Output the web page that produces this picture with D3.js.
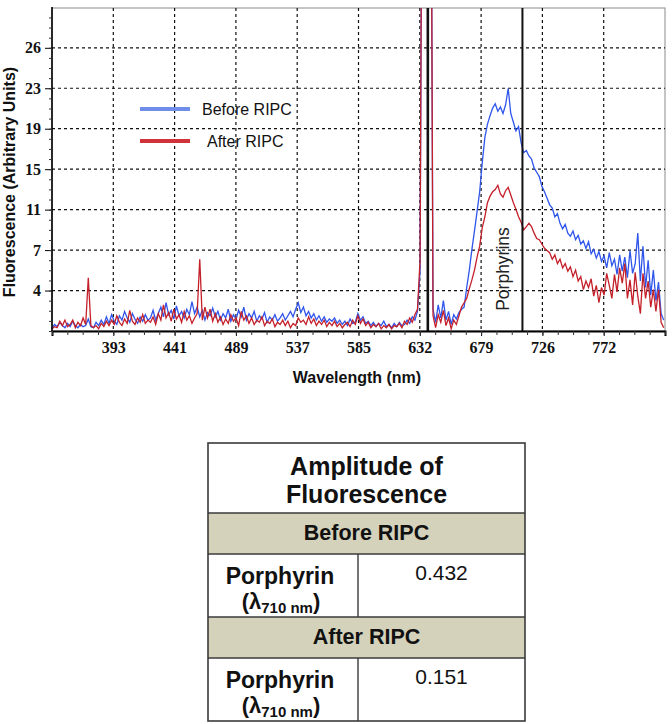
<!DOCTYPE html>
<html><head><meta charset="utf-8">
<script src="https://cdn.jsdelivr.net/npm/d3@7"></script>
<style>body{margin:0;background:#fff} svg{display:block}</style>
</head><body>
<svg id="c" width="672" height="724"></svg>
<script>
// ---- data ----
const wlStart = 346, wlStep = 2;           // wavelength grid of the spectra (nm)
const wlDomain = [346, 819];
const before = [
 0.3,0.6,0.4,0.8,0.5,0.3,0.7,0.4,0.9,0.5,0.3,0.6,0.4,0.5,
 1.1,0.4,0.3,0.8,0.5,1.0,0.6,1.3,0.7,1.5,0.9,0.6,1.4,1.0,1.8,1.2,0.8,1.6,1.1,0.7,1.3,0.9,1.5,1.0,
 1.2,1.9,1.0,1.6,2.2,1.3,2.6,1.5,1.9,1.1,2.3,1.4,1.8,1.2,2.0,1.5,2.7,1.6,2.2,1.3,1.9,1.0,1.7,1.4,2.1,
 1.3,1.8,1.0,1.6,1.2,2.0,0.9,1.5,1.1,1.9,1.3,2.2,1.0,1.6,1.2,1.8,0.9,1.4,1.1,1.7,0.8,1.3,1.0,1.5,0.9,1.2,1.6,1.0,1.4,1.8,1.3,2.0,2.6,1.7,2.2,1.4,1.8,1.2,1.6,1.0,1.4,0.9,1.3,0.8,1.1,
 0.9,1.2,0.7,1.0,0.6,0.9,0.5,1.1,0.7,0.8,1.6,1.0,1.3,0.7,0.9,0.5,0.8,0.4,0.7,0.5,0.9,0.4,0.6,0.3,0.7,0.4,0.8,0.5,0.6,1.0,0.7,1.3,1.0,1.8,
 5.5,60,60,60,60,2.0,
 0.8,2.4,1.2,2.8,1.0,1.8,0.6,1.5,1.1,1.7,
 2.0,2.2,4.0,5.6,7.5,9.2,11.0,12.8,15.5,17.8,
 19.0,19.8,20.5,20.9,20.2,20.6,20.0,20.8,22.3,20.0,
 19.2,18.4,18.8,17.3,16.4,16.6,16.1,15.8,15.0,14.6,
 14.2,13.3,12.8,12.2,11.6,11.3,10.5,10.8,9.9,9.4,
 9.8,9.0,8.7,9.2,8.4,8.8,8.0,8.3,7.6,8.2,
 7.1,7.5,6.7,7.3,6.4,6.9,5.8,7.2,6.0,6.6,
 5.2,7.0,5.5,6.8,4.9,7.4,5.3,6.2,9.0,4.6,
 7.8,4.0,6.5,3.3,5.6,2.8,4.5,1.6,1.0
];
const after = [
 0.2,0.4,0.3,0.9,0.5,1.0,0.4,0.6,1.0,0.3,0.8,0.5,1.2,0.6,
 4.9,
 0.5,0.3,0.5,0.2,0.7,0.4,0.9,0.5,1.0,0.6,1.4,0.8,0.5,1.1,0.7,1.9,0.9,0.6,1.2,0.8,1.5,0.7,1.0,
 0.8,1.3,0.6,1.6,1.0,2.4,1.2,1.7,0.9,2.0,1.1,1.5,0.8,1.8,1.0,1.4,0.7,1.2,1.6,
 6.6,
 1.0,2.2,1.2,2.0,0.9,
 1.6,0.8,1.3,0.6,1.1,0.7,1.5,0.9,1.2,0.5,1.8,1.0,1.4,0.7,1.2,0.6,1.0,0.8,1.3,0.5,0.9,0.7,1.1,0.4,0.8,0.6,1.0,0.5,0.9,0.3,0.7,0.5,1.2,0.8,1.0,0.6,1.3,0.7,1.1,0.5,0.9,0.6,1.0,0.4,0.8,
 0.5,0.9,0.4,0.7,0.3,0.6,0.8,0.4,1.0,0.6,1.4,0.7,1.1,0.5,0.8,0.3,0.6,0.4,0.7,0.2,0.5,0.3,0.6,0.2,0.5,0.4,0.7,0.3,0.9,0.6,1.2,0.8,1.5,2.0,
 6.5,60,60,60,60,1.4,
 0.3,1.5,0.8,1.9,0.5,1.2,0.2,1.0,0.6,1.4,
 2.2,2.6,3.0,3.9,4.7,5.6,6.8,7.8,9.5,10.5,
 11.8,12.4,12.8,13.0,13.4,12.6,12.3,12.9,13.2,12.5,
 11.8,11.2,10.5,10.0,9.3,9.6,9.9,9.6,9.0,8.5,
 8.4,8.0,7.6,7.4,7.2,6.6,7.0,6.2,6.6,5.8,
 6.2,5.5,5.9,5.0,5.6,4.6,5.0,3.8,4.6,4.0,
 4.8,3.2,4.2,2.6,4.0,3.3,5.3,4.2,3.0,5.2,
 3.6,5.8,4.4,6.2,3.0,4.7,2.4,5.4,3.2,1.6,
 5.3,3.0,4.6,2.2,3.8,1.8,3.8,0.8,0.3
];
const seriesNames = ["Before RIPC", "After RIPC"];
const xTickLabels = ["393","441","489","537","585","632","679","726","772"];
const yTickLabels = ["4","7","11","15","19","23","26"];
const yMax = 29.7, yStep = 3.72;
const markerLines = [636, 709];             // excitation line, porphyrin band
const markerLabel = "Porphyrins";
const tableTitle = ["Amplitude of", "Fluorescence"];
const tableGroups = ["Before RIPC", "After RIPC"];
const tableAnalyte = ["Porphyrin", "Porphyrin"];
const tableValues = ["0.432", "0.151"];

// ---- chart ----
const svg = d3.select("#c");
const P = {l: 52, r: 665, t: 8, b: 331};
const x = d3.scaleLinear().domain(wlDomain).range([P.l, P.r]);
const y = d3.scaleLinear().domain([0, yMax]).range([P.b, P.t]);
const xTicks = xTickLabels.map((_, i) => wlDomain[0] + (i + 1) * (wlDomain[1] - wlDomain[0]) / 10);
const yTicks = yTickLabels.map((_, i) => (i + 1) * yStep);
const xMinor = d3.range(0, 41).map(k => wlDomain[0] + k * (wlDomain[1] - wlDomain[0]) / 40);
const yMinor = d3.range(0, 32).map(k => k * yStep / 4).filter(v => v <= yMax);

svg.append("defs").append("clipPath").attr("id", "clip")
  .append("rect").attr("x", P.l).attr("y", P.t).attr("width", P.r - P.l).attr("height", P.b - P.t);

// frame
svg.append("rect").attr("x", P.l).attr("y", P.t).attr("width", P.r - P.l).attr("height", P.b - P.t)
  .attr("fill", "none").attr("stroke", "#8a8a8a").attr("stroke-width", 1);

// grid
const grid = svg.append("g").attr("stroke", "#111").attr("stroke-width", 1.2).attr("stroke-dasharray", "3,3");
grid.selectAll(".gx").data(xTicks).join("line")
  .attr("x1", d => x(d)).attr("x2", d => x(d)).attr("y1", P.t).attr("y2", P.b);
grid.selectAll(".gy").data(yTicks).join("line")
  .attr("y1", d => y(d)).attr("y2", d => y(d)).attr("x1", P.l).attr("x2", P.r);

// data
const line = d3.line().x((d, i) => x(wlStart + i * wlStep)).y(d => y(d));
const dataG = svg.append("g").attr("clip-path", "url(#clip)").attr("fill", "none");
dataG.append("path").datum(before).attr("d", line).attr("stroke", "#2f55ea").attr("stroke-width", 1.3);
dataG.append("path").datum(after).attr("d", line).attr("stroke", "#c4202a").attr("stroke-width", 1.3);

// marker lines
svg.selectAll(".mk").data(markerLines).join("line")
  .attr("x1", d => x(d)).attr("x2", d => x(d)).attr("y1", P.t).attr("y2", P.b)
  .attr("stroke", "#111").attr("stroke-width", (d, i) => i === 0 ? 2.6 : 2);
svg.append("text")
  .attr("transform", `translate(${x(markerLines[1]) - 13},${y(5.7)}) rotate(-90)`)
  .attr("text-anchor", "middle").attr("font-family", "Liberation Sans, Arial, sans-serif")
  .attr("font-size", 17.5).attr("fill", "#222").text(markerLabel);

// axes
const serif = "Liberation Serif, Times New Roman, serif";
const ax = svg.append("g").attr("transform", `translate(0,${P.b})`)
  .call(d3.axisBottom(x).tickValues(xTicks).tickFormat((d, i) => xTickLabels[i]).tickSize(5).tickPadding(6));
ax.select(".domain").attr("stroke", "#000").attr("stroke-width", 2);
ax.selectAll(".tick line").attr("stroke", "#000");
ax.selectAll("text").attr("font-family", serif).attr("font-weight", "bold").attr("font-size", 16).attr("fill", "#111");
const axm = svg.append("g").attr("transform", `translate(0,${P.b})`)
  .call(d3.axisBottom(x).tickValues(xMinor).tickFormat("").tickSize(4));
axm.select(".domain").remove();
axm.selectAll(".tick line").attr("stroke", "#333");

const ay = svg.append("g").attr("transform", `translate(${P.l},0)`)
  .call(d3.axisLeft(y).tickValues(yTicks).tickFormat((d, i) => yTickLabels[i]).tickSize(7).tickPadding(4));
ay.select(".domain").attr("stroke", "#000").attr("stroke-width", 1.6).attr("d", `M0,${P.t - 1}V${P.b}`);
ay.selectAll(".tick line").attr("stroke", "#000");
ay.selectAll("text").attr("font-family", serif).attr("font-weight", "bold").attr("font-size", 16).attr("fill", "#111");
const aym = svg.append("g").attr("transform", `translate(${P.l},0)`)
  .call(d3.axisLeft(y).tickValues(yMinor).tickFormat("").tickSize(3));
aym.select(".domain").remove();
aym.selectAll(".tick line").attr("stroke", "#333");

const sans = "Liberation Sans, Arial, sans-serif";
svg.append("text").attr("x", 357).attr("y", 383).attr("text-anchor", "middle")
  .attr("font-family", sans).attr("font-weight", "bold").attr("font-size", 16).attr("fill", "#111")
  .text("Wavelength (nm)");
svg.append("text").attr("transform", "translate(15,182) rotate(-90)").attr("text-anchor", "middle")
  .attr("font-family", sans).attr("font-weight", "bold").attr("font-size", 16).attr("fill", "#111")
  .text("Fluorescence (Arbitrary Units)");

// legend
const legColors = ["#6e8eea", "#d0343a"];
const leg = svg.append("g");
seriesNames.forEach((name, i) => {
  const ly = 109 + i * 32;
  leg.append("line").attr("x1", 140).attr("x2", 190).attr("y1", ly).attr("y2", ly)
    .attr("stroke", legColors[i]).attr("stroke-width", 4);
  leg.append("text").attr("x", i === 0 ? 202 : 207).attr("y", ly + 6)
    .attr("font-family", sans).attr("font-size", 16).attr("fill", "#111").text(name);
});

// ---- table ----
const T = {l: 208, m: 358, r: 525};
const rowsY = [443, 513, 554, 617, 658, 721];
const tg = svg.append("g");
const tan = "#d5d2bb";
[1, 3].forEach(r => tg.append("rect").attr("x", T.l).attr("y", rowsY[r]).attr("width", T.r - T.l)
  .attr("height", rowsY[r + 1] - rowsY[r]).attr("fill", tan));
tg.append("rect").attr("x", T.l).attr("y", rowsY[0]).attr("width", T.r - T.l).attr("height", rowsY[5] - rowsY[0])
  .attr("fill", "none").attr("stroke", "#3a3a3a").attr("stroke-width", 1.6);
rowsY.slice(1, 5).forEach(yy => tg.append("line").attr("x1", T.l).attr("x2", T.r).attr("y1", yy).attr("y2", yy)
  .attr("stroke", "#3a3a3a").attr("stroke-width", 1.4));
[[2, 3], [4, 5]].forEach(([a, b]) => tg.append("line").attr("x1", T.m).attr("x2", T.m)
  .attr("y1", rowsY[a]).attr("y2", rowsY[b]).attr("stroke", "#3a3a3a").attr("stroke-width", 1.4));
const cx = (T.l + T.r) / 2;
tableTitle.forEach((t, i) => tg.append("text").attr("x", cx).attr("y", 475 + i * 28)
  .attr("text-anchor", "middle").attr("font-family", sans).attr("font-weight", "bold")
  .attr("font-size", 25).attr("fill", "#111").text(t));
tableGroups.forEach((g, i) => {
  const off = i * 104;
  tg.append("text").attr("x", cx).attr("y", 540 + off).attr("text-anchor", "middle")
    .attr("font-family", sans).attr("font-weight", "bold").attr("font-size", 21.5).attr("fill", "#111").text(g);
  tg.append("text").attr("x", 280).attr("y", 584 + off).attr("text-anchor", "middle")
    .attr("font-family", sans).attr("font-weight", "bold").attr("font-size", 23).attr("fill", "#111").text(tableAnalyte[i]);
  const lt = tg.append("text").attr("x", 281).attr("y", 609 + off).attr("text-anchor", "middle")
    .attr("font-family", sans).attr("font-weight", "bold").attr("font-size", 22).attr("fill", "#111");
  lt.append("tspan").text("(λ");
  lt.append("tspan").attr("font-size", 15).attr("dy", 4).text("710 nm");
  lt.append("tspan").attr("dy", -4).text(")");
  tg.append("text").attr("x", (T.m + T.r) / 2).attr("y", 580 + off).attr("text-anchor", "middle")
    .attr("font-family", sans).attr("font-size", 21).attr("fill", "#111").text(tableValues[i]);
});
</script>
</body></html>
